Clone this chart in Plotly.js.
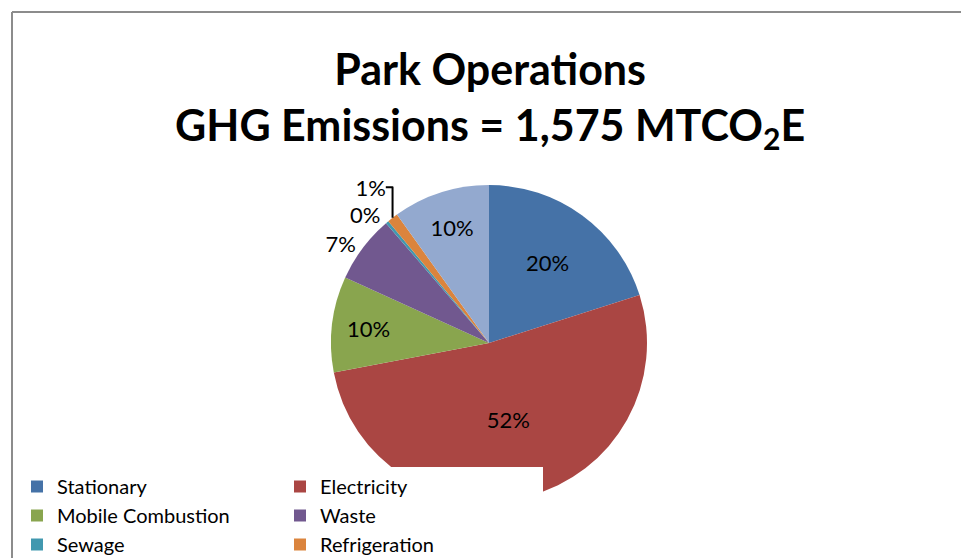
<!DOCTYPE html>
<html>
<head>
<meta charset="utf-8">
<script src="https://cdn.plot.ly/plotly-3.0.1.min.js"></script>
<style>html,body{margin:0;padding:0;background:#fff;}#chart{width:961px;height:558px;}</style>
</head>
<body>
<div id="chart"></div>
<script>
const categories = ["Stationary", "Electricity", "Mobile Combustion", "Waste", "Sewage", "Refrigeration", "Other"];
const shares = [20.1, 51.9, 9.8, 6.9, 0.3, 1.1, 9.9];
const sliceColors = ["#4572A7", "#AA4643", "#89A54E", "#71588F", "#4198AF", "#DB843D", "#93A9CF"];
const labelPositions = ["inside", "inside", "inside", "outside", "outside", "outside", "inside"];
const titleLines = ["Park Operations", "GHG Emissions = 1,575 MTCO<sub>2</sub>E"];

const W = 961, H = 558;
const RM = 305;              // right margin keeps the legend to two columns
const PW = W - RM;           // plot-area width
const fx = px => px / PW;
const fy = py => 1 - py / H;
const cx = 489, cy = 343, r = 158;

const trace = {
  type: "pie",
  labels: categories,
  values: shares,
  sort: false,
  direction: "clockwise",
  rotation: 0,
  marker: {colors: sliceColors, line: {width: 0}},
  textinfo: "percent",
  texttemplate: "%{percent:.0%}",
  textposition: labelPositions,
  insidetextorientation: "horizontal",
  textfont: {family: "Lato, sans-serif", size: 22, color: "#000"},
  outsidetextfont: {family: "Lato, sans-serif", size: 22, color: "#000"},
  domain: {x: [fx(cx - r), fx(cx + r)], y: [fy(cy + r), fy(cy - r)]},
  hoverinfo: "label+percent"
};

const layout = {
  width: W, height: H,
  margin: {l: 0, r: RM, t: 0, b: 0, autoexpand: false},
  paper_bgcolor: "#fff",
  title: {
    text: titleLines.join("<br>"),
    font: {family: "Lato, sans-serif", size: 43, color: "#000", weight: "bold"},
    x: 0.51, xanchor: "center", xref: "container",
    y: 1 - 85 / H, yanchor: "middle", yref: "container"
  },
  showlegend: true,
  legend: {
    orientation: "h",
    x: fx(17), xanchor: "left",
    y: fy(467), yanchor: "top",
    bgcolor: "#fff",
    entrywidth: 218, entrywidthmode: "pixels",
    font: {family: "Lato, sans-serif", size: 20, color: "#000"},
    traceorder: "normal"
  },
  shapes: [
    {type: "line", xref: "paper", yref: "paper", x0: fx(12), x1: fx(W), y0: fy(12), y1: fy(12), line: {color: "#8c8c8c", width: 2}},
    {type: "line", xref: "paper", yref: "paper", x0: fx(12), x1: fx(12), y0: fy(H), y1: fy(12), line: {color: "#8c8c8c", width: 2}}
  ]
};

Plotly.newPlot("chart", [trace], layout, {displayModeBar: false, staticPlot: true});
</script>
</body>
</html>
